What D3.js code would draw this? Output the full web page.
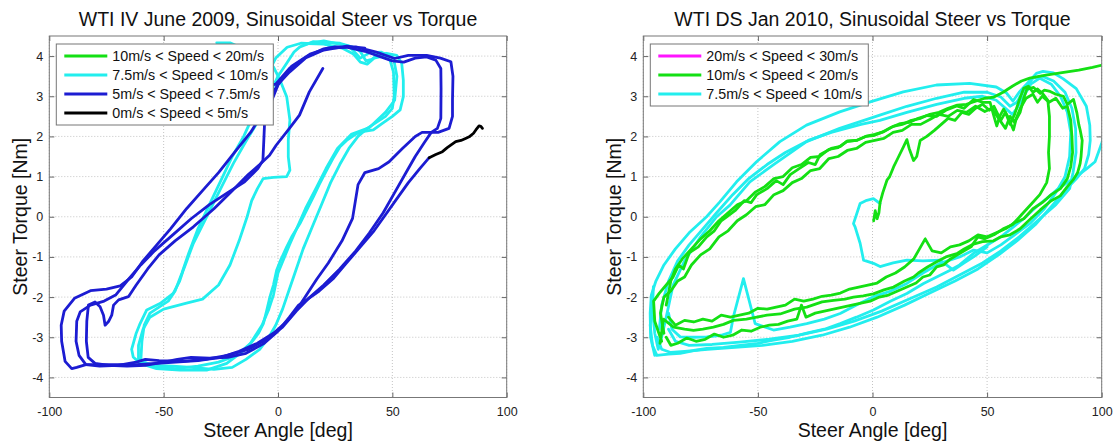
<!DOCTYPE html>
<html>
<head>
<meta charset="utf-8">
<title>Sinusoidal Steer vs Torque</title>
<script src="https://cdn.jsdelivr.net/npm/d3@7"></script>
<style>
  body { margin: 0; background: #fff; }
  text { font-family: "Liberation Sans", Arial, sans-serif; }
</style>
</head>
<body>
<script>

// ---- axes / ticks ----
var xTicks = [-100, -50, 0, 50, 100];
var yTicks = [-4, -3, -2, -1, 0, 1, 2, 3, 4];

// ---- left panel: WTI IV June 2009 ----
var leftTitle = "WTI IV June 2009, Sinusoidal Steer vs Torque";
var leftLegend = ["10m/s < Speed < 20m/s", "7.5m/s < Speed < 10m/s", "5m/s < Speed < 7.5m/s", "0m/s < Speed < 5m/s"];
var leftLegendColors = ["#14e014", "#22eeee", "#1c1cd2", "#000000"];

var leftCyan1 = [[-64,-3.3],[-62,-2.9],[-60.3,-2.66],[-57.4,-2.32],[-51.6,-2.16],[-45.8,-1.91],[-43,-1.6],[-41.4,-1.33],[-37,-0.66],[-31.2,0],[-25.4,0.66],[-19.5,1.33],[-13.7,1.91],[-9.3,2.32],[-5.5,2.8],[-3.5,3.07],[0,3.5],[3.8,3.82],[7,4.1],[9.6,4.23],[15.5,4.36],[27.1,4.32],[33,4.22],[35.9,4.12],[38.5,3.88],[41,3.92],[44,4.05],[47.5,4.07],[51.9,4.02],[54.1,3.82],[54.8,3.4],[54.8,2.99],[53.4,2.66],[50,2.5],[45,2.3],[41.7,2.16],[37,2.12],[34.4,2.07],[30,1.9],[27.1,1.74],[24,1.45],[21.3,1.16],[18,0.8],[15.5,0.5],[12,0.1],[9.6,-0.17],[6,-0.5],[3.8,-0.75],[1,-1.1],[-0.6,-1.33],[-2,-1.7],[-3.5,-1.99],[-5,-2.35],[-6.4,-2.66],[-8.5,-2.9],[-10.8,-3.07],[-13.5,-3.25],[-16.6,-3.4],[-22.4,-3.65],[-31.2,-3.82],[-42.9,-3.82],[-53.1,-3.78],[-60.3,-3.65],[-63.3,-3.49],[-64,-3.3]];
var leftCyan2 = [[-60,-3.6],[-59.5,-3.1],[-58.5,-2.7],[-56,-2.4],[-52,-2.25],[-48,-2.1],[-45,-1.85],[-42,-1.4],[-39,-0.9],[-35,-0.3],[-30,0.3],[-25,0.9],[-20,1.5],[-15,2.0],[-11,2.5],[-8,3.0],[-5,3.5],[-1,3.95],[4,4.22],[10,4.32],[20,4.3],[28,4.2],[33,4.05],[36,3.85],[39,3.8],[42,3.95],[46,4.0],[49,3.9],[50.5,3.6],[50.8,3.0],[50,2.7],[47,2.5],[43,2.35],[39,2.2],[35,2.0],[31,1.7],[27,1.3],[23,0.85],[19,0.3],[15,-0.25],[11,-0.8],[8,-1.3],[5,-1.8],[2,-2.3],[-1,-2.7],[-4,-3.0],[-8,-3.3],[-14,-3.55],[-20,-3.75],[-28,-3.8],[-38,-3.75],[-46,-3.72],[-54,-3.7],[-60,-3.6]];
var leftCyan3 = [[-26.8,4.33],[-21,4.33],[-12,4.1],[-2,3.73],[0.9,3.4],[3.8,2.99],[5.2,2.41],[4.5,1.91],[4.5,1.49],[5.2,1.16],[3.8,1.0],[-2,0.98],[-6.5,0.95],[-9,0.7],[-11.5,0.4],[-13.5,0.0],[-17,-0.6],[-21,-1.2],[-26,-1.7],[-33,-2.05],[-40,-2.15],[-50,-2.3],[-56,-2.5],[-59,-2.8],[-61,-3.2],[-61,-3.55],[-55,-3.72],[-45,-3.78],[-35,-3.72],[-26,-3.62],[-18,-3.45],[-12,-3.15],[-7,-2.7],[-4,-2.3],[-2,-1.95],[0,-1.4],[5,-0.7],[12,0.2],[17,0.75],[21,1.2],[26,1.7],[32,2.05],[40,2.22],[47,2.6],[51,2.9],[52,3.5],[50.5,3.95],[45,4.1],[40,4.08],[36,3.95],[31,4.25],[20,4.38],[12,4.3]];

var leftBlue1 = [[-5,3.25],[-1,3.3],[5,3.69],[13.7,4.02],[20,4.18],[25,4.23],[34,4.23],[43,4.1],[51,3.94],[57,4.02],[65,4.02],[71,3.95],[75.6,3.86],[76.5,3.5],[76.3,2.9],[76.3,2.5],[74.8,2.2],[70,2.1],[63,2.1],[60,2.0],[54.4,1.7],[48.6,1.37],[44,1.2],[38,1.1],[35,0.8],[32.6,-0.04],[28,-0.6],[22,-1.15],[17,-1.55],[13,-1.9],[9,-2.25],[4,-2.6],[-2,-2.9],[-9,-3.15],[-17,-3.35],[-25,-3.5],[-35,-3.58],[-48,-3.63],[-62,-3.68],[-75,-3.68],[-84,-3.68],[-88,-3.75],[-90.2,-3.78],[-93.1,-3.6],[-94.6,-3.1],[-94.8,-2.7],[-93.5,-2.35],[-89,-2.03],[-82,-1.84],[-75,-1.8],[-69,-1.72],[-64,-1.5],[-59,-1.1],[-53,-0.7],[-47,-0.3],[-40,0.2],[-33,0.65],[-26,1.1],[-19,1.6],[-12,2.1],[-7,2.55],[-3,3.0],[0,3.3],[5,3.6],[12,3.95],[20,4.15],[30,4.25],[38,4.2]];
var leftBlue2 = [[8,-2.35],[2,-2.75],[-5,-3.05],[-13,-3.3],[-22,-3.45],[-32,-3.55],[-42,-3.6],[-52,-3.58],[-58,-3.55],[-62,-3.62],[-70,-3.7],[-78,-3.72],[-84,-3.68],[-87,-3.45],[-88.3,-3.1],[-88,-2.6],[-86.5,-2.37],[-82,-2.2],[-76,-2.1],[-71,-1.95],[-66,-1.6],[-60,-1.2],[-54,-0.85],[-46,-0.45],[-38,-0.05],[-30,0.3],[-22,0.6],[-14.6,0.87],[-8.8,1.2],[-6.6,1.4],[-6.2,1.9],[-5.9,2.3],[-3,2.86],[0,3.28],[6,3.75],[14,4.05],[22,4.2],[30,4.22],[38,4.12],[45,3.98],[50,3.88],[55,3.85],[60,3.95],[65,3.98],[69,3.9],[71.2,3.69],[71.3,3.2],[71.2,2.45],[69.7,2.2],[67,2.1],[64,1.85],[60,1.5],[56,1.1],[51,0.6],[46,0.1],[40,-0.4],[34,-0.85],[27,-1.3],[20,-1.7],[14,-2.0],[8,-2.35]];
var leftBlue3 = [[66.1,1.47],[62,1.2],[57,0.85],[52,0.45],[47,0.05],[42,-0.35],[36,-0.75],[30,-1.15],[24,-1.55],[18,-1.85],[13,-2.05],[9,-2.2],[5,-2.5],[0,-2.85],[-6,-3.15],[-14,-3.4],[-22,-3.5],[-30,-3.52],[-38,-3.5],[-44,-3.55],[-50,-3.62],[-58,-3.7],[-66,-3.72],[-74,-3.7],[-80,-3.65],[-83,-3.5],[-83.8,-3.1],[-83.6,-2.6],[-82.9,-2.2],[-80,-2.12],[-77.8,-2.24],[-76.3,-2.45],[-75.6,-2.7],[-74.1,-2.61],[-72.7,-2.45],[-71.9,-2.2],[-69.7,-2.07],[-65.4,-1.99],[-62,-1.7],[-57,-1.3],[-52,-0.95],[-45,-0.6],[-37,-0.25],[-28,0.2],[-20,0.65],[-13,1.05],[-8,1.3],[-3.7,1.53],[-0.8,1.78],[5,2.2],[9.4,2.53],[13.7,3.11],[19.6,3.69]];
var leftBlack = [[66.1,1.47],[69,1.55],[71.9,1.62],[74,1.72],[76,1.8],[77.7,1.87],[80,1.9],[82,1.95],[83.6,1.99],[85.5,2.08],[86.5,2.16],[87.9,2.26],[88.7,2.25],[89.4,2.2]];

// ---- right panel: WTI DS Jan 2010 ----
var rightTitle = "WTI DS Jan 2010, Sinusoidal Steer vs Torque";
var rightLegend = ["20m/s < Speed < 30m/s", "10m/s < Speed < 20m/s", "7.5m/s < Speed < 10m/s"];
var rightLegendColors = ["#ff14ff", "#14e014", "#22eeee"];

var rightCyan1 = [[-95,-3.45],[-96.8,-3.0],[-97,-2.4],[-96.5,-1.95],[-94.5,-1.6],[-91,-1.2],[-86,-0.8],[-80,-0.4],[-72.4,0.0],[-66.6,0.37],[-59.3,0.87],[-50.6,1.37],[-40.4,1.87],[-28.8,2.28],[-14.3,2.61],[-1,2.86],[13.4,3.11],[27.9,3.28],[42.4,3.32],[54,3.23],[58.5,3.08],[61.3,2.88],[64,3.1],[67.2,3.3],[71.5,3.57],[74.4,3.62],[79,3.58],[83.1,3.44],[88.9,3.19],[93.3,2.75],[94.8,2.28],[95,1.9],[94.3,1.55],[92.5,1.2],[89,0.95],[84,0.65],[78,0.25],[71,-0.2],[63,-0.6],[55,-0.95],[46,-1.3],[36,-1.6],[25,-1.9],[14,-2.2],[2,-2.5],[-10,-2.75],[-22,-2.95],[-35,-3.1],[-48,-3.2],[-60,-3.25],[-72,-3.3],[-82,-3.35],[-88,-3.38],[-92,-3.3],[-94,-3.0]];
var rightCyan2 = [[-95.6,-1.74],[-96,-2.3],[-95,-2.9],[-93.5,-3.3],[-92,-3.0],[-90,-2.5],[-87,-1.7],[-82,-1.1],[-75,-0.5],[-68,0.0],[-62.2,0.29],[-53.5,0.87],[-43.3,1.29],[-28.8,1.87],[-14.3,2.2],[3.2,2.53],[15,2.75],[28,2.95],[40,3.1],[50,3.1],[56,2.98],[60,2.75],[63,2.85],[66,3.15],[70,3.45],[74,3.5],[79,3.38],[84,3.1],[87,2.7],[88.6,2.2],[88.8,1.6],[87.5,1.1],[86,0.7],[80,0.3],[72,-0.1],[64,-0.5],[56,-0.85],[48,-1.15],[38,-1.45],[28,-1.75],[16,-2.05],[4,-2.35],[-8,-2.6],[-20,-2.8],[-32,-2.95],[-45,-3.05],[-58,-3.12],[-70,-3.18],[-80,-3.2],[-86,-3.1],[-89,-2.8]];
var rightCyan3 = [[102,2.2],[100,1.83],[97.1,1.37],[93.5,1.2],[89.9,1.04],[85,0.85],[80.2,0.66],[76,0.45],[71.5,0.25],[66,-0.05],[61.5,-0.25],[56,-0.5],[51.3,-0.66],[44.1,-0.91],[38,-1.2],[33.9,-1.33],[28,-1.5],[22.3,-1.66],[15,-1.91],[8,-2.1],[0.4,-2.32],[-7,-2.5],[-14.1,-2.66],[-21,-2.8],[-28.7,-2.9],[-36,-3.0],[-43.2,-3.07],[-50,-3.15],[-57.7,-3.2],[-65,-3.25],[-72.3,-3.28],[-78,-3.33],[-83.9,-3.4],[-89,-3.42],[-94.1,-3.45],[-96,-3.2],[-97,-2.7],[-96,-2.2]];
var rightCyan4 = [[-93,-2.8],[-92,-2.2],[-89,-1.6],[-85,-1.1],[-80,-0.7],[-74,-0.3],[-68,0.1],[-61,0.55],[-54,0.95],[-46,1.3],[-38,1.6],[-28,1.9],[-18,2.1],[-5,2.3],[3.2,2.4],[15,2.6],[28,2.8],[40,2.95],[48,3.0],[54,2.9],[58,2.7],[61,2.55],[63,2.7],[66,3.0],[69,3.3],[73,3.45],[78,3.3],[82,3.0],[85,2.6],[86.5,2.1],[86,1.5],[84,1.0],[80,0.6],[75,0.2],[69,-0.15],[62,-0.45],[56,-0.7],[50,-0.9],[44.1,-0.83],[38,-1.0],[29.5,-1.16],[22,-1.4],[15,-1.66],[8,-1.85],[0.4,-1.99],[-7,-2.2],[-14.1,-2.41],[-21,-2.55],[-28.7,-2.66],[-36,-2.75],[-43.2,-2.82],[-51.2,-2.66],[-56.3,-1.54],[-60.7,-2.49],[-62,-2.88],[-66,-2.95],[-72.3,-2.99],[-78,-3.0],[-83.9,-2.99],[-87.5,-2.8],[-89,-2.4]];
var rightCyan5 = [[3.3,0.33],[0.4,0.45],[-2.5,0.41],[-5.4,0.33],[-8.3,-0.17],[-7.6,-0.25],[-5.4,-0.66],[-3.9,-1.08],[0.4,-1.16],[3.3,-1.24],[9,-1.15],[15,-1.08],[22,-1.1],[29.5,-1.08],[35.3,-1.33],[40,-1.15],[44.1,-1.0],[50,-0.75]];

var rightGreen1 = [[-92,-3.1],[-95,-2.6],[-95.5,-2.1],[-93,-1.9],[-90,-1.7],[-87,-1.5],[-84.5,-1.2],[-82.5,-1.3],[-80,-0.9],[-76,-0.75],[-72.3,-0.5],[-69,-0.35],[-66,-0.1],[-63.6,0.0],[-60,0.15],[-56,0.4],[-53,0.35],[-50.5,0.55],[-46,0.7],[-42,0.9],[-39,0.8],[-35.9,1.05],[-32,1.2],[-28,1.35],[-25,1.3],[-22.8,1.55],[-18,1.7],[-14,1.75],[-11.2,1.88],[-7,1.9],[-3,2.0],[0.4,2.02],[4,2.1],[8,2.22],[12.1,2.32],[16,2.35],[20,2.45],[23.7,2.52],[28,2.5],[32,2.65],[36.8,2.76],[40,2.7],[44.1,2.92],[48,2.85],[51.3,2.85],[53,2.5],[54.2,2.26],[55.5,2.5],[57.2,2.68],[59,2.5],[61.5,2.16],[62.5,2.4],[64.4,2.6],[66,2.95],[67.3,3.17],[70.3,3.22],[73.2,3.07],[75,3.15],[77.5,3.12],[80,3.05],[83.3,3.0],[85,2.8],[87.7,2.92],[89.2,2.58],[90,2.3],[90.6,2.16],[91.5,1.9],[91.3,1.74],[91,1.5],[90.6,1.33],[89.5,1.1],[87.7,0.93],[85,0.75],[81.9,0.52],[78,0.4],[73.2,0.17],[69,-0.05],[64.4,-0.3],[60,-0.45],[56,-0.5],[52.8,-0.6],[48,-0.62],[44.1,-0.68],[40,-0.8],[36.8,-0.92],[32,-1.0],[28,-1.12],[24,-1.25],[20,-1.4],[17.9,-1.5],[14,-1.6],[9.2,-1.75],[5,-1.82],[0.4,-1.92],[-4,-1.97],[-8.3,-2.0],[-12,-2.05],[-17,-2.08],[-22,-2.12],[-28.7,-2.25],[-34,-2.3],[-40.3,-2.42],[-46,-2.45],[-50.5,-2.5],[-55,-2.55],[-60.7,-2.58],[-65,-2.68],[-69.4,-2.75],[-74,-2.8],[-78.1,-2.83],[-82,-2.8],[-86.8,-2.75],[-89,-2.65],[-91.2,-2.55],[-92.7,-3.15]];
var rightGreen2 = [[-91,-2.9],[-92.5,-2.4],[-91,-2.0],[-88,-1.85],[-85,-1.6],[-82,-1.5],[-79,-1.2],[-75,-0.95],[-71,-0.8],[-67,-0.5],[-63,-0.35],[-59,-0.1],[-55,0.05],[-51,0.25],[-47,0.3],[-43,0.55],[-39,0.65],[-35,0.85],[-31,0.95],[-27,1.15],[-23,1.2],[-19,1.45],[-15,1.5],[-11,1.65],[-7,1.7],[-3,1.85],[1,1.9],[5,1.95],[9,2.1],[13,2.15],[17,2.3],[21,2.3],[25,2.42],[29,2.55],[33,2.5],[37,2.65],[41,2.6],[45,2.75],[49,2.62],[52,2.7],[55,2.45],[58,2.2],[60,2.5],[62,2.35],[64.5,2.7],[67,2.95],[70,3.05],[72,2.85],[74,3.0],[77,2.85],[80,2.95],[83,2.7],[85,2.75],[86.5,2.4],[87,2.0],[87.3,1.6],[86.5,1.25],[85,0.95],[82,0.7],[78,0.55],[74,0.35],[70,0.2],[66,-0.05],[62,-0.15],[58,-0.3],[54,-0.4],[50,-0.5],[46,-0.45],[42,-0.6],[38,-0.7],[34,-0.75],[30,-0.9],[26,-0.85],[23,-0.55],[21,-0.75],[18,-1.05],[14,-1.25],[10,-1.4],[6,-1.5],[2,-1.65],[-2,-1.7],[-6,-1.75],[-10,-1.8],[-14,-1.9],[-18,-1.95],[-22,-1.98],[-26,-2.05],[-30,-2.1],[-34,-2.05],[-38,-2.2],[-42,-2.25],[-46,-2.3],[-50,-2.28],[-54,-2.4],[-58,-2.45],[-62,-2.5],[-66,-2.45],[-70,-2.6],[-74,-2.55],[-78,-2.62],[-82,-2.58],[-86,-2.7],[-89,-2.5]];
var rightGreen3 = [[0.5,-0.1],[1.2,0.15],[2,-0.05],[2.8,0.1],[3.3,0.35],[4.5,0.6],[6.3,0.91],[7.5,1.0],[9.2,1.24],[11,1.45],[13.5,1.74],[15,1.92],[16,1.7],[17.9,1.4],[19.3,1.5],[20.8,1.9],[23.7,2.0],[27,2.15],[30,2.3],[33,2.45],[36,2.4],[39,2.6],[42,2.55],[45,2.7],[48,2.8],[51,2.65],[53,2.75],[56,2.4],[58,2.6],[60,2.3],[62,2.55],[64,2.9],[66,3.2],[68,3.25],[70,3.1],[72,3.18],[74.5,3.05],[76.5,2.9],[77.2,2.5],[77.2,2.0],[76.8,1.6],[77.2,1.2],[76,0.85],[73,0.55],[69,0.3],[65,0.05],[61,-0.2],[57,-0.3],[53,-0.45],[49,-0.55],[46,-0.5],[43,-0.75],[40,-0.85],[37,-0.95],[34,-1.05],[31,-1.2],[28,-1.25],[25,-1.45],[22,-1.5],[19,-1.65],[15,-1.75],[11,-1.85],[7,-1.95],[3,-2.0],[-1,-2.1],[-5,-2.15],[-9,-2.2],[-13,-2.25],[-17,-2.3],[-21,-2.35],[-25,-2.4],[-29,-2.5],[-31,-2.2],[-33,-2.55],[-37,-2.6],[-41,-2.68],[-45,-2.7],[-49,-2.75],[-53,-2.85],[-57,-2.82],[-61,-2.95],[-65,-3.0],[-69,-2.92],[-73,-3.05],[-77,-3.1],[-81,-3.02],[-85,-3.15],[-88,-3.2],[-90,-3.0]];
var rightGreen4 = [[-90,-2.2],[-88,-1.6],[-86,-1.3],[-83,-1.05],[-79,-0.8],[-75,-0.55],[-71,-0.35],[-67,-0.1],[-63,0.1],[-59,0.3],[-55,0.4],[-51,0.62],[-47,0.75],[-43,0.95],[-39,1.0],[-35,1.22],[-31,1.3],[-27,1.48],[-23,1.5],[-19,1.68],[-15,1.72],[-11,1.88],[-7,1.9],[-3,2.0],[1,2.05],[5,2.12],[9,2.25],[13,2.3],[17,2.4],[21,2.45],[25,2.55],[29,2.6],[33,2.7],[37,2.78],[41,2.8],[45,2.88],[49,2.95],[53,2.98],[57,3.1],[61,3.25],[65,3.38],[68.6,3.45],[75,3.52],[82,3.58],[90,3.65],[96,3.72],[102,3.8]];

// ---- drawing ----
var W = 1113, H = 444;
var plotTop = 36, plotBottom = 397.5;

var svg = d3.select("body").append("svg")
  .attr("width", W)
  .attr("height", H);

function drawPanel(id, left, right, title, traces, legendNames, legendColors, legendW) {
  var x = d3.scaleLinear().domain([-100, 100]).range([left, right]);
  var y = d3.scaleLinear().domain([-4.5, 4.5]).range([plotBottom, plotTop]);
  var g = svg.append("g");

  // dotted grid
  g.selectAll(".gx").data(xTicks).enter().append("line")
    .attr("x1", function (d) { return x(d); })
    .attr("x2", function (d) { return x(d); })
    .attr("y1", plotTop).attr("y2", plotBottom)
    .attr("stroke", "#c4c4c4").attr("stroke-dasharray", "1,2");
  g.selectAll(".gy").data(yTicks).enter().append("line")
    .attr("x1", left).attr("x2", right)
    .attr("y1", function (d) { return y(d); })
    .attr("y2", function (d) { return y(d); })
    .attr("stroke", "#c4c4c4").attr("stroke-dasharray", "1,2");

  // data
  svg.append("clipPath").attr("id", id)
    .append("rect")
    .attr("x", left).attr("y", plotTop)
    .attr("width", right - left).attr("height", plotBottom - plotTop);

  var line = d3.line()
    .x(function (d) { return x(d[0]); })
    .y(function (d) { return y(d[1]); });

  g.append("g").attr("clip-path", "url(#" + id + ")")
    .selectAll("path").data(traces).enter().append("path")
    .attr("d", function (d) { return line(d.pts); })
    .attr("fill", "none")
    .attr("stroke", function (d) { return d.color; })
    .attr("stroke-width", 2.8)
    .attr("stroke-linejoin", "round")
    .attr("stroke-linecap", "round");

  // axes with inward ticks, plain hyphen minus in labels
  var plain = function (d) { return String(d); };
  function styleAxis(sel) {
    sel.select(".domain").remove();
    sel.selectAll(".tick line").attr("stroke", "#666");
    sel.selectAll(".tick text").attr("fill", "#222").style("font-size", "12.5px")
      .style("font-family", "'Liberation Sans', Arial, sans-serif");
  }
  g.append("g").attr("transform", "translate(0," + plotBottom + ")")
    .call(d3.axisBottom(x).tickValues(xTicks).tickSize(-5).tickPadding(10).tickFormat(plain))
    .call(styleAxis);
  g.append("g").attr("transform", "translate(0," + plotTop + ")")
    .call(d3.axisTop(x).tickValues(xTicks).tickSize(-5).tickFormat(""))
    .call(styleAxis);
  g.append("g").attr("transform", "translate(" + left + ",0)")
    .call(d3.axisLeft(y).tickValues(yTicks).tickSize(-5).tickPadding(6).tickFormat(plain))
    .call(styleAxis);
  g.append("g").attr("transform", "translate(" + right + ",0)")
    .call(d3.axisRight(y).tickValues(yTicks).tickSize(-5).tickFormat(""))
    .call(styleAxis);

  g.append("rect")
    .attr("x", left).attr("y", plotTop)
    .attr("width", right - left).attr("height", plotBottom - plotTop)
    .attr("fill", "none").attr("stroke", "#777").attr("stroke-width", 1);

  // titles
  var cx = (left + right) / 2;
  g.append("text").attr("x", cx).attr("y", 26)
    .attr("text-anchor", "middle").style("font-size", "19.5px").attr("fill", "#111")
    .text(title);
  g.append("text").attr("x", cx).attr("y", 437)
    .attr("text-anchor", "middle").style("font-size", "19.5px").attr("fill", "#111")
    .text("Steer Angle [deg]");
  g.append("text")
    .attr("transform", "translate(" + (left - 22) + "," + ((plotTop + plotBottom) / 2) + ") rotate(-90)")
    .attr("text-anchor", "middle").style("font-size", "19.5px").attr("fill", "#111")
    .text("Steer Torque [Nm]");

  // legend
  var lx = left + 7, ly = 44, rowH = 19;
  var lg = g.append("g");
  lg.append("rect")
    .attr("x", lx).attr("y", ly)
    .attr("width", legendW).attr("height", legendNames.length * rowH + 5)
    .attr("fill", "#fff").attr("stroke", "#777");
  var rows = lg.selectAll(".row").data(legendNames).enter().append("g")
    .attr("transform", function (d, i) { return "translate(" + lx + "," + (ly + 12 + i * rowH) + ")"; });
  rows.append("line")
    .attr("x1", 8).attr("x2", 51)
    .attr("stroke", function (d, i) { return legendColors[i]; })
    .attr("stroke-width", 2.8);
  rows.append("text")
    .attr("x", 56).attr("y", 5)
    .style("font-size", "14.3px").attr("fill", "#111")
    .text(function (d) { return d; });
}

drawPanel("clipL", 49.3, 506.7, leftTitle, [
  { pts: leftCyan1, color: "#22eeee" },
  { pts: leftCyan2, color: "#22eeee" },
  { pts: leftCyan3, color: "#22eeee" },
  { pts: leftBlue1, color: "#1c1cd2" },
  { pts: leftBlue2, color: "#1c1cd2" },
  { pts: leftBlue3, color: "#1c1cd2" },
  { pts: leftBlack, color: "#000000" }
], leftLegend, leftLegendColors, 217);

drawPanel("clipR", 643.3, 1101.7, rightTitle, [
  { pts: rightCyan1, color: "#22eeee" },
  { pts: rightCyan2, color: "#22eeee" },
  { pts: rightCyan3, color: "#22eeee" },
  { pts: rightCyan4, color: "#22eeee" },
  { pts: rightCyan5, color: "#22eeee" },
  { pts: rightGreen1, color: "#14e014" },
  { pts: rightGreen2, color: "#14e014" },
  { pts: rightGreen3, color: "#14e014" },
  { pts: rightGreen4, color: "#14e014" }
], rightLegend, rightLegendColors, 218);

</script>
</body>
</html>
